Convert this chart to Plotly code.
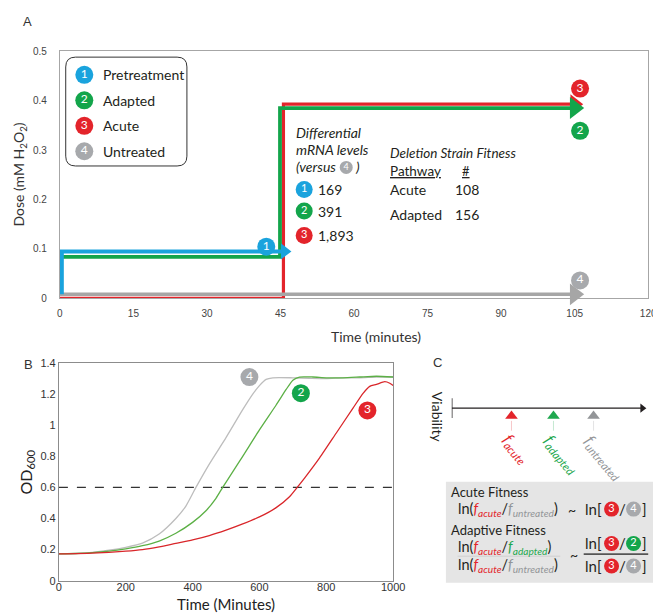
import plotly.graph_objects as go

W, H = 661, 613
FONT = "Lato, 'Open Sans', sans-serif"
TICKFONT = "'Liberation Sans Narrow', 'Liberation Sans', Arial, sans-serif"

BLUE = "#1aa3dd"
GREEN = "#13a54b"
RED = "#e3242b"
GREY = "#a7a9ac"
TXT = "#231f20"

# ---------------- Panel A: dose schedules ----------------
a_time_ticks = [0, 15, 30, 45, 60, 75, 90, 105, 120]
a_dose_ticks = [0, 0.1, 0.2, 0.3, 0.4, 0.5]

pre_time = [0.4, 0.4, 45.8]
pre_dose = [0.008, 0.095, 0.095]
adapted_time = [0.4, 44.9, 44.9, 105]
adapted_dose = [0.084, 0.084, 0.385, 0.385]
acute_time = [0, 45.6, 45.6, 105]
acute_dose = [0.0, 0.0, 0.393, 0.393]
untreated_time = [0, 105]
untreated_dose = [0.008, 0.008]

legend_labels = ["Pretreatment", "Adapted", "Acute", "Untreated"]
legend_numbers = ["1", "2", "3", "4"]
legend_colors = [BLUE, GREEN, RED, GREY]

# label badges on panel A (time, dose)
a_badge_time = [42.1, 106.1, 106.1, 106.1]
a_badge_dose = [0.1045, 0.4246, 0.339, 0.0363]
a_badge_num = ["1", "3", "2", "4"]
a_badge_col = [BLUE, RED, GREEN, GREY]

mrna_numbers = ["1", "2", "3"]
mrna_counts = ["169", "391", "1,893"]
pathways = ["Acute", "Adapted"]
pathway_counts = ["108", "156"]

# ---------------- Panel B: growth curves ----------------
b_time_ticks = [0, 200, 400, 600, 800, 1000]
b_od_ticks = [0, 0.2, 0.4, 0.6, 0.8, 1, 1.2, 1.4]
threshold_od = 0.6

untr_t = [0, 50, 100, 150, 200, 250, 300, 350, 380, 410, 450, 500, 550, 580, 600, 620, 640,
          700, 750, 800, 850, 900, 950, 1000]
untr_od = [0.172, 0.175, 0.182, 0.196, 0.215, 0.242, 0.30, 0.40, 0.48, 0.60, 0.75, 0.92, 1.10,
           1.20, 1.255, 1.295, 1.305, 1.305, 1.302, 1.30, 1.305, 1.305, 1.31, 1.31]
adap_t = [0, 50, 100, 150, 200, 250, 300, 350, 400, 440, 470, 490, 520, 550, 600, 650, 680,
          700, 720, 760, 800, 850, 900, 950, 1000]
adap_od = [0.172, 0.175, 0.18, 0.19, 0.205, 0.225, 0.255, 0.305, 0.375, 0.45, 0.53, 0.60,
           0.70, 0.80, 0.97, 1.13, 1.23, 1.29, 1.31, 1.31, 1.305, 1.305, 1.31, 1.315, 1.31]
acut_t = [0, 100, 200, 250, 300, 350, 400, 450, 500, 550, 600, 650, 690, 713, 735, 780, 830,
          880, 910, 930, 950, 975, 990, 1000]
acut_od = [0.172, 0.177, 0.19, 0.2, 0.218, 0.24, 0.262, 0.29, 0.325, 0.365, 0.41, 0.47, 0.54,
           0.60, 0.66, 0.79, 0.95, 1.11, 1.205, 1.25, 1.262, 1.28, 1.27, 1.255]

b_badge_time = [570, 724, 923]
b_badge_od = [1.31, 1.206, 1.095]
b_badge_num = ["4", "2", "3"]
b_badge_col = [GREY, GREEN, RED]

# ---------------- Panel C: viability scale ----------------
fitness_names = ["acute", "adapted", "untreated"]
fitness_viability = [0.307, 0.523, 0.729]
fitness_colors = [RED, "#1fa84f", "#939598"]

fig = go.Figure()

# ---- panel A lines ----
for t, d, col, w, hs in [
    (acute_time, acute_dose, RED, 3.2, 17),
    (untreated_time, untreated_dose, "#a6a6a6", 3.5, 19),
    (adapted_time, adapted_dose, GREEN, 3.8, 19),
    (pre_time, pre_dose, BLUE, 4, 14),
]:
    fig.add_trace(go.Scatter(x=t, y=d, mode="lines", line=dict(color=col, width=w),
                             xaxis="x", yaxis="y", hoverinfo="skip"))
    fig.add_trace(go.Scatter(x=[t[-1]], y=[d[-1]], mode="markers",
                             marker=dict(symbol="triangle-right", size=hs, color=col, line=dict(width=0)),
                             xaxis="x", yaxis="y", hoverinfo="skip", cliponaxis=False))


def badges(xs, ys, nums, cols, size, fsize, xa, ya):
    fig.add_trace(go.Scatter(x=xs, y=ys, mode="markers+text", text=nums,
                             textposition="middle center",
                             textfont=dict(color="white", size=fsize, family=FONT),
                             marker=dict(size=size, color=cols, line=dict(width=0)),
                             xaxis=xa, yaxis=ya, hoverinfo="skip", cliponaxis=False))


badges(a_badge_time, a_badge_dose, a_badge_num, a_badge_col, 18, 12, "x", "y")

# ---- panel B curves ----
fig.add_trace(go.Scatter(x=[b_time_ticks[0], b_time_ticks[-1]], y=[threshold_od, threshold_od],
                         mode="lines", line=dict(color="#333333", width=1.3, dash="dash"),
                         xaxis="x2", yaxis="y2", hoverinfo="skip"))
for t, od, col in [(untr_t, untr_od, "#bdbdbd"), (adap_t, adap_od, "#5cb046"), (acut_t, acut_od, "#d9262a")]:
    fig.add_trace(go.Scatter(x=t, y=od, mode="lines", line=dict(color=col, width=1.3, shape="spline", smoothing=0.6),
                             xaxis="x2", yaxis="y2", hoverinfo="skip"))
badges(b_badge_time, b_badge_od, b_badge_num, b_badge_col, 18, 12, "x2", "y2")

# ---- panel C viability axis ----
fig.add_trace(go.Scatter(x=[0, 0.985], y=[402, 402], mode="lines", line=dict(color=TXT, width=1.4),
                         xaxis="x3", yaxis="y3", hoverinfo="skip"))
fig.add_trace(go.Scatter(x=[0, 0], y=[392, 412], mode="lines", line=dict(color=TXT, width=1.4),
                         xaxis="x3", yaxis="y3", hoverinfo="skip"))
fig.add_trace(go.Scatter(x=[0.98], y=[402], mode="markers",
                         marker=dict(symbol="triangle-right", size=8, color=TXT),
                         xaxis="x3", yaxis="y3", hoverinfo="skip", cliponaxis=False))
for v, c in zip(fitness_viability, fitness_colors):
    fig.add_trace(go.Scatter(x=[v, v], y=[415, 425], mode="lines",
                             line=dict(color=c, width=1), opacity=0.25,
                             xaxis="x3", yaxis="y3", hoverinfo="skip"))
fig.add_trace(go.Scatter(x=fitness_viability, y=[410] * 3, mode="markers",
                         marker=dict(symbol="triangle-up", size=11, color=fitness_colors),
                         xaxis="x3", yaxis="y3", hoverinfo="skip", cliponaxis=False))

# legend badges (pixel overlay)
badges([75] * 4, [62, 88, 114, 140], legend_numbers, legend_colors, 18, 12, "x4", "y4")
# mRNA badges
badges([300] * 3, [179, 201, 226], mrna_numbers, [BLUE, GREEN, RED], 17, 11, "x4", "y4")
badges([343], [156.5], ["4"], [GREY], 13, 9, "x4", "y4")
# C formula badges
badges([614.5, 637, 614.5, 637, 614.5, 637], [505, 505, 540, 540, 563, 563],
       ["3", "4", "3", "2", "3", "4"], [RED, GREY, RED, GREEN, RED, GREY], 15, 11, "x4", "y4")

ann = []


def txt(x, y, s, size=14, color=TXT, xanchor="left", yanchor="middle", ref=("x4", "y4"), family=FONT, angle=0, xshift=0):
    ann.append(dict(x=x, y=y, xref=ref[0], yref=ref[1], text=s, showarrow=False, xanchor=xanchor,
                    yanchor=yanchor, font=dict(size=size, color=color, family=family),
                    textangle=angle, xshift=xshift))


# panel letters
txt(10, 8, "A", 13, "#333", family="'Liberation Sans', Arial")
txt(11, 357, "B", 13, "#333", family="'Liberation Sans', Arial")
txt(430, 355, "C", 13, "#333", family="'Liberation Sans', Arial")

# axis titles
txt(373, 329, "Time (minutes)", 14, "#333", xanchor="center")
txt(9, 164, "Dose (mM H<sub>2</sub>O<sub>2</sub>)", 14, "#333", xanchor="center", angle=-90)
txt(220, 602, "Time (Minutes)", 15, "#222", xanchor="center")
txt(16, 467, "OD<sub>600</sub>", 16, "#222", xanchor="center", angle=-90)

# legend texts
for yy, lab in zip([62, 88, 114, 140], legend_labels):
    txt(92, yy, lab, 14)

# mRNA block
txt(290, 121, "<i>Differential</i>", 14)
txt(290, 138, "<i>mRNA levels</i>", 14)
txt(290, 156, "<i>(versus</i>", 14)
txt(350, 156, "<i>)</i>", 14)
for yy, n in zip([179, 201, 226], mrna_counts):
    txt(312, yy, n, 14)

# deletion block
txt(386, 142, "<i>Deletion Strain Fitness</i>", 13.5)
txt(386, 160, "<u>Pathway</u>", 13.5)
txt(466, 160, "<u>#</u>", 13, xanchor="center")
for yy, p, n in zip([179, 205], pathways, pathway_counts):
    txt(386, yy, p, 14)
    txt(452, yy, n, 14)

# panel C
txt(436, 411, "Viability", 14, TXT, xanchor="center", angle=90)
label_dy = [443, 449, 452]
label_dx = [5, 9, 11]
for v, c, nm, yy, dx in zip(fitness_viability, fitness_colors, fitness_names, label_dy, label_dx):
    txt(v, yy, f"<i>f<sub>{nm}</sub></i>", 16, c, xanchor="center", ref=("x3", "y3"), angle=50, xshift=dx)


def f(name, col):
    return f'<span style="color:{col}"><i>f<sub>{name}</sub></i></span>'


fr, fg, fu = RED, "#1fa84f", "#939598"
txt(448, 488, "Acute Fitness", 13)
txt(455, 505, f"ln({f('acute', fr)}/{f('untreated', fu)})", 14.5)
txt(574, 505, "~", 14, xanchor="center")
txt(448, 526, "Adaptive Fitness", 13)
txt(455, 544, f"ln({f('acute', fr)}/{f('adapted', fg)})", 14.5)
txt(455, 562, f"ln({f('acute', fr)}/{f('untreated', fu)})", 14.5)
txt(576, 551, "~", 14, xanchor="center")
for yy in [505, 540, 563]:
    txt(607, yy, "ln[", 15, xanchor="right")
    txt(625.5, yy, "/", 15, xanchor="center")
    txt(648, yy, "]", 15, xanchor="center")

shapes = [
    dict(type="rect", xref="x4", yref="y4", x0=445, x1=658, y0=477, y1=580,
         fillcolor="#e5e5e5", line=dict(width=0), layer="below"),
    dict(type="line", xref="x4", yref="y4", x0=586, x1=652, y0=551, y1=551,
         line=dict(color="#555", width=1.8)),
    dict(type="line", xref="x4", yref="y4", x0=457, x1=562, y0=553, y1=553,
         line=dict(color="#cfcfcf", width=1)),
    dict(type="path", xref="x4", yref="y4",
         path="M 66,44 L 170,44 Q 180,44 180,54 L 180,145 Q 180,155 170,155 L 66,155 "
              "Q 56,155 56,145 L 56,54 Q 56,44 66,44 Z",
         line=dict(color="#333", width=1), fillcolor="rgba(0,0,0,0)"),
]

fig.update_layout(
    width=W, height=H, margin=dict(l=0, r=0, t=0, b=0),
    paper_bgcolor="white", plot_bgcolor="rgba(0,0,0,0)",
    showlegend=False, annotations=ann, shapes=shapes,
    xaxis=dict(domain=[50 / W, 652 / W], range=[0, 120], tickvals=a_time_ticks,
               showgrid=False, zeroline=False, showline=True, mirror=True, linecolor="#a6a6a6",
               ticks="", ticklabelstandoff=6, tickfont=dict(size=10, color="#444", family=TICKFONT),
               anchor="y"),
    yaxis=dict(domain=[1 - 290 / H, 1 - 38 / H], range=[0, 0.5], tickvals=a_dose_ticks,
               showgrid=False, zeroline=False, showline=True, mirror=True, linecolor="#a6a6a6",
               ticks="", ticklabelstandoff=10, tickfont=dict(size=10, color="#444", family=TICKFONT),
               anchor="x"),
    xaxis2=dict(domain=[49 / W, 391 / W], range=[0, 1000], tickvals=b_time_ticks,
                showgrid=False, zeroline=False, showline=True, mirror=True, linecolor="#8c8c8c",
                ticks="", ticklabelstandoff=-4, tickfont=dict(size=11, color="#333", family=TICKFONT),
                anchor="y2"),
    yaxis2=dict(domain=[1 - 578 / H, 1 - 356 / H], range=[0, 1.4], tickvals=b_od_ticks,
                showgrid=False, zeroline=False, showline=True, mirror=True, linecolor="#8c8c8c",
                ticks="", ticklabelstandoff=0, tickfont=dict(size=11, color="#333", family=TICKFONT),
                anchor="x2"),
    xaxis3=dict(domain=[451 / W, 650 / W], range=[0, 1], visible=False, anchor="y3"),
    yaxis3=dict(domain=[0, 1], range=[H, 0], visible=False, anchor="x3"),
    xaxis4=dict(domain=[0, 1], range=[0, W], visible=False, anchor="y4"),
    yaxis4=dict(domain=[0, 1], range=[H, 0], visible=False, anchor="x4"),
)

fig.write_html("out.html")
